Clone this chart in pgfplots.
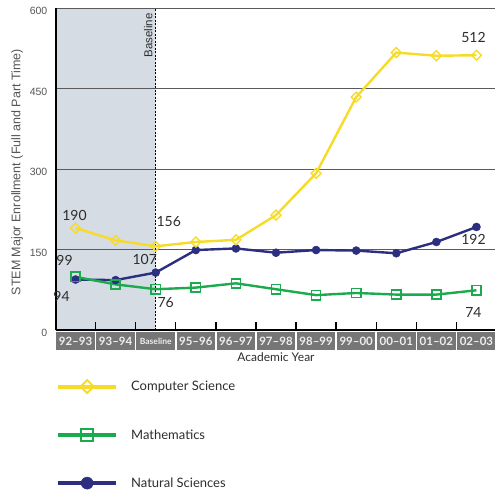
\documentclass[border=0pt]{standalone}
\usepackage{pgfplots}
\pgfplotsset{compat=1.18}
\usepackage{fontspec}
\setmainfont{Liberation Sans}
\newfontfamily\lato{Lato}

\definecolor{csyellow}{RGB}{246,219,40}
\definecolor{mathgreen}{RGB}{28,170,78}
\definecolor{natnavy}{RGB}{44,46,128}
\definecolor{bandgray}{RGB}{118,118,118}
\definecolor{bandtext}{RGB}{238,238,238}
\definecolor{prebase}{RGB}{214,220,228}
\definecolor{gridgray}{RGB}{90,90,90}
\definecolor{textdark}{RGB}{45,45,45}
\definecolor{ticktext}{RGB}{85,85,85}

\tikzset{dlabel/.style={font=\lato\fontsize{14}{14}\selectfont, text=textdark, inner sep=0pt}}

\begin{document}
\begin{tikzpicture}
\begin{axis}[
  at={(55.5pt,161pt)}, anchor=south west,
  scale only axis, width=441pt, height=322pt,
  xmin=-0.5, xmax=10.5, ymin=0, ymax=600,
  set layers, clip=false,
  axis x line*=bottom, axis y line*=left,
  axis line style={-, line width=2pt, black},
  xtick={0,...,10},
  xticklabels={92–93,93–94,{\fontsize{8.5}{8.5}\selectfont Baseline},95–96,96–97,97–98,98–99,99–00,00–01,01–02,02–03},
  minor x tick num=1,
  major tick length=0pt, minor tick length=8pt,
  tick align=inside,
  minor tick style={line width=1.3pt, black},
  xticklabel style={font=\lato\bfseries\fontsize{11.5}{11.5}\selectfont, text=bandtext,
    fill=bandgray, minimum width=38.6pt, minimum height=18.5pt, inner sep=0pt,
    anchor=north, yshift=-1.5pt},
  ytick={0,150,300,450,600},
  /pgf/number format/assume math mode=true,
  yticklabel style={font=\fontsize{10.5}{10.5}\selectfont, text=ticktext, inner sep=0pt,
    anchor=east, xshift=-8pt, yshift=-3pt},
  ymajorgrids,
  major grid style={gridgray, line width=0.9pt},
  xlabel={Academic Year},
  xlabel style={font=\lato\fontsize{12}{12}\selectfont, text=textdark,
    at={(axis description cs:0.5,0)}, anchor=center, yshift=-27pt},
  ylabel={STEM Major Enrollment (Full and Part Time)},
  ylabel style={font=\fontsize{12.5}{12.5}\selectfont, text=ticktext,
    at={(axis description cs:-0.087,0.49)}, anchor=center},
  reverse legend,
  legend cell align=left,
  legend style={at={(axis description cs:0.001,-0.155)}, anchor=north west,
    draw=none, fill=none, inner sep=0pt, row sep=36pt,
    font=\lato\fontsize{13}{13}\selectfont, text=textdark,
    nodes={inner sep=0pt},
    /tikz/every odd column/.append style={column sep=13pt}},
  legend image code/.code={\draw[mark repeat=2, mark phase=2, #1]
    plot coordinates {(0pt,0pt) (29pt,0pt) (58pt,0pt)};},
]

% pre-baseline period and baseline marker
\addplot[on layer=axis background, fill=prebase, draw=none, forget plot]
  coordinates {(-0.5,0) (-0.5,600) (2,600) (2,0)} \closedcycle;
\draw[black, line width=1pt, dash pattern=on 2pt off 1.5pt] (axis cs:2,0) -- (axis cs:2,600);
\node[font=\fontsize{11.5}{11.5}\selectfont, text=textdark, rotate=90, anchor=south east,
  inner sep=0pt] at ([xshift=-3pt,yshift=-5pt]axis cs:2,600) {Baseline};

% Natural Sciences
\addplot[color=natnavy, line width=2.4pt, mark=*, mark size=4pt,
  mark options={solid, fill=natnavy, draw=natnavy, line width=0.5pt},
  legend image post style={line width=4pt, mark size=6pt}]
  coordinates {(0,94) (1,93) (2,107) (3,149) (4,152) (5,144) (6,149) (7,148) (8,143) (9,164) (10,192)};
\addlegendentry{Natural Sciences}

% Mathematics
\addplot[color=mathgreen, line width=2.4pt, mark=square, mark size=4.6pt,
  mark options={solid, draw=mathgreen, fill=white, line width=1.6pt},
  legend image post style={line width=4pt, mark size=6pt, mark options={solid, draw=mathgreen, fill=white, line width=2pt}}]
  coordinates {(0,99) (1,85) (2,76) (3,79) (4,87) (5,76) (6,65) (7,69) (8,66) (9,66) (10,74)};
\addlegendentry{Mathematics}

% Computer Science
\addplot[color=csyellow, line width=2.4pt, mark=square, mark size=3.5pt,
  mark options={solid, rotate=45, draw=csyellow, fill=white, line width=1.4pt},
  legend image post style={line width=4pt, mark size=4.6pt, mark options={solid, rotate=45, draw=csyellow, fill=white, line width=1.8pt}}]
  coordinates {(0,190) (1,167) (2,156) (3,164) (4,168) (5,214) (6,292) (7,434) (8,517) (9,511) (10,512)};
\addlegendentry{Computer Science}

% value labels
\node[dlabel, xshift=-1pt, yshift=13pt] at (axis cs:0,190) {190};
\node[dlabel, xshift=13pt, yshift=25pt] at (axis cs:2,156) {156};
\node[dlabel, xshift=-3pt, yshift=18pt] at (axis cs:10,512) {512};
\node[dlabel, xshift=-11pt, yshift=16pt] at (axis cs:0,99) {99};
\node[dlabel, xshift=10pt, yshift=-13pt] at (axis cs:2,76) {76};
\node[dlabel, xshift=-3pt, yshift=-22pt] at (axis cs:10,74) {74};
\node[dlabel, xshift=-14pt, yshift=-17pt] at (axis cs:0,94) {94};
\node[dlabel, xshift=-11pt, yshift=13pt] at (axis cs:2,107) {107};
\node[dlabel, xshift=-3pt, yshift=-12pt] at (axis cs:10,192) {192};
\end{axis}
\pgfresetboundingbox
\path[use as bounding box] (0,0) rectangle (495pt,491pt);
\end{tikzpicture}
\end{document}
